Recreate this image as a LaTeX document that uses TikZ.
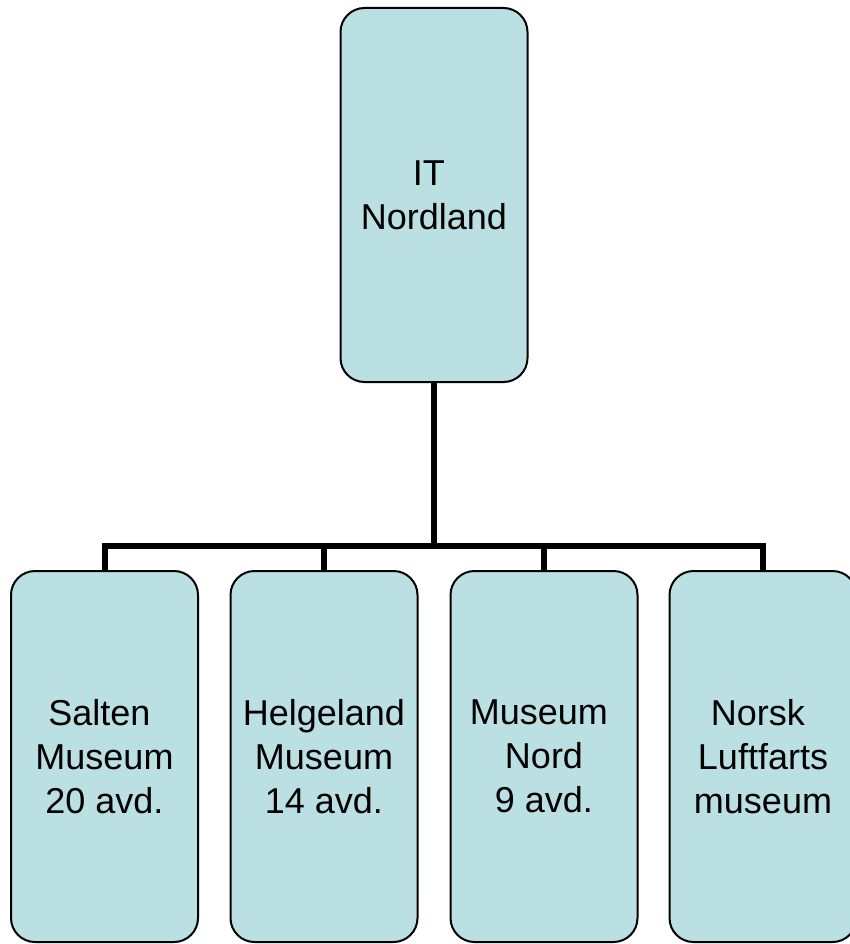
\documentclass[tikz,border=0pt]{standalone}
\usepackage{fontspec}
\setmainfont{Liberation Sans}
\definecolor{boxfill}{RGB}{187,224,227}
\begin{document}
\begin{tikzpicture}[x=1pt,y=-1pt,
  orgbox/.style={draw=black, line width=2pt, fill=boxfill, rounded corners=24pt,
    minimum width=187pt, inner sep=0pt, outer sep=0pt, align=center,
    font=\fontsize{36}{44}\selectfont},
  link/.style={line width=6pt, line join=miter, line cap=butt}]
\useasboundingbox (0,0) rectangle (849,944);
\node[orgbox, minimum height=374pt] (top) at (434,195) {IT\hspace*{0.28em}\\Nordland};
\node[orgbox, minimum height=371pt] (b1) at (104.5,756.5) {Salten\hspace*{0.28em}\\Museum\\20 avd.};
\node[orgbox, minimum height=371pt] (b2) at (324,756.5) {Helgeland\\Museum\\14 avd.};
\node[orgbox, minimum height=371pt] (b3) at (544,756.5) {Museum\hspace*{0.28em}\\Nord\\9 avd.};
\node[orgbox, minimum height=371pt] (b4) at (763,756.5) {Norsk\hspace*{0.28em}\\Luftfarts\\museum};
\coordinate (bus) at (434,546);
\draw[link] (top.south) -- (bus);
\draw[link] (b1.north) -- (b1.north |- bus) -- (b4.north |- bus) -- (b4.north);
\draw[link] (b2.north) -- (b2.north |- bus);
\draw[link] (b3.north) -- (b3.north |- bus);
\end{tikzpicture}
\end{document}
